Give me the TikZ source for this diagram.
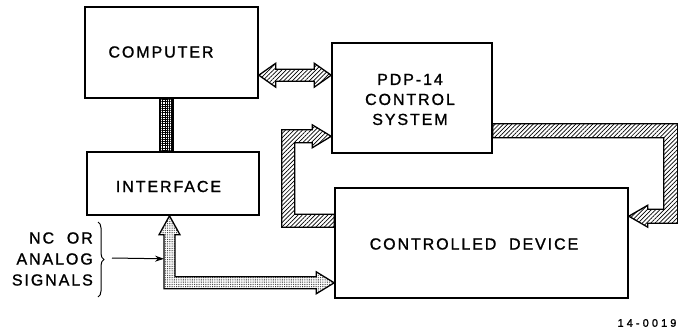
\documentclass[tikz,border=0pt]{standalone}
\usepackage{fontspec}
\setmainfont{Liberation Sans}
\newfontfamily\labfont[LetterSpace=12,WordSpace=2,FakeBold=1.2]{Liberation Sans}
\newfontfamily\numfont[LetterSpace=28,WordSpace=2,FakeBold=1.5]{Liberation Sans}
\usetikzlibrary{patterns.meta,calc,decorations.pathreplacing,arrows.meta}
\begin{document}
\begin{tikzpicture}[x=1pt,y=-1pt,
  box/.style={draw,line width=1.6pt,inner sep=0pt},
  txt/.style={font=\fontsize{16}{20}\selectfont\labfont,align=center,inner sep=0pt},
  fat/.style={draw,line width=1.3pt,line join=miter},
  hatch/.style={pattern={Lines[angle=45,distance=3pt,line width=0.7pt]}},
  dotfill/.style={pattern={Dots[distance=1.8pt,radius=0.45pt]}},
  gridh/.style={pattern={Lines[angle=0,distance=2.2pt,line width=0.8pt]}},
  gridv/.style={pattern={Lines[angle=90,distance=2.2pt,line width=0.8pt]}}
]
\useasboundingbox (0,0) rectangle (678,335);

% boxes
\node[box,minimum width=173pt,minimum height=91pt]  (comp) at (171.5,52.5) {};
\node[box,minimum width=172pt,minimum height=63pt]  (intf) at (173,183.5) {};
\node[box,minimum width=160pt,minimum height=110pt] (pdp)  at (412,98) {};
\node[box,minimum width=293pt,minimum height=110pt] (dev)  at (481.5,243) {};

% texts
\node[txt] (compT) at (161,52) {COMPUTER};
\node[txt] (intfT) at (168.5,186.5) {INTERFACE};
\node[txt] (pdpT)  at (410,99.5) {PDP-14\\CONTROL\\SYSTEM};
\node[txt] (devT)  at (474,244) {CONTROLLED DEVICE};
\node[txt,align=right,font=\fontsize{16}{21}\selectfont\labfont,anchor=east] (sig) at (93,259) {NC OR\\ANALOG\\SIGNALS};
\node[font=\fontsize{11}{13}\selectfont\numfont,inner sep=0pt] (num) at (647,323) {14-0019};

% computer <-> pdp-14 double arrow
\coordinate (d1) at ($(comp.north east)+(0,69)$);
\coordinate (d2) at (pdp.west |- d1);
\draw[fat,hatch] (d1) -- ++(17,-12) -- ++(0,6) -- ($(d2)+(-17,-6)$) -- ++(0,-6) -- (d2)
  -- ++(-17,12) -- ++(0,-6) -- ($(d1)+(17,6)$) -- ++(0,6) -- cycle;

% computer - interface bus
\coordinate (v1) at ($(comp.south)+(-11.5,0)$);
\coordinate (v2) at (v1 |- intf.north);
\fill[gridh] (v1) rectangle ($(v2)+(13,0)$);
\draw[fat,gridv] (v1) rectangle ($(v2)+(13,0)$);

% interface -> controlled device (dotted)
\coordinate (p1) at ($(intf.south)+(-3.5,0)$);
\coordinate (c3) at ($(dev.south west)+(0,-16)$);
\coordinate (p2) at (p1 |- c3);
\draw[fat,dotfill] (p1) -- ++(10.5,19) -- ++(-5,0) -- ($(p2)+(5.5,-6)$) -- ($(c3)+(-18,-6)$)
  -- ++(0,-5) -- (c3) -- ++(-18,11) -- ++(0,-5) -- ($(p2)+(-5.5,6)$) -- ($(p1)+(-5.5,19)$)
  -- ++(-5,0) -- cycle;

% controlled device -> pdp-14 (left loop)
\coordinate (l1) at ($(dev.north west)+(0,27)$);
\coordinate (l2) at ($(dev.north west)+(0,40)$);
\coordinate (t1) at ($(pdp.south west)+(0,-17.5)$);
\draw[fat,hatch] (l2) -- ++(-52.5,0) -- ($(t1)+(-49.5,-6.5)$) -- ($(t1)+(-19,-6.5)$) -- ++(0,-5)
  -- (t1) -- ++(-19,11.5) -- ++(0,-5) -- ($(t1)+(-36.5,6.5)$) -- ($(l1)+(-39.5,0)$) -- (l1) -- cycle;

% pdp-14 -> controlled device (right loop)
\coordinate (r1) at ($(pdp.north east)+(0,81.5)$);
\coordinate (r2) at ($(pdp.north east)+(0,95.5)$);
\coordinate (u1) at ($(dev.north east)+(0,29)$);
\draw[fat,hatch] (r1) -- ($(u1 |- r1)+(49,0)$) -- ($(u1)+(49,7)$) -- ($(u1)+(19,7)$) -- ++(0,4)
  -- (u1) -- ++(19,-11) -- ++(0,4) -- ($(u1)+(35,-7)$) -- ($(u1 |- r2)+(35,0)$) -- (r2) -- cycle;

% signals brace and arrow
\draw[line width=1pt,decorate,decoration={brace,amplitude=6pt,aspect=0.5}] (98,222) coordinate (b1) -- (98,297) coordinate (b2);
\coordinate (bt) at (112,258);
\coordinate (sigend) at ($(p1)+(-5.5,43)$);
\draw[line width=1pt,-{Stealth[length=9pt,width=6pt]}] (bt) -- (sigend);
\end{tikzpicture}
\end{document}
